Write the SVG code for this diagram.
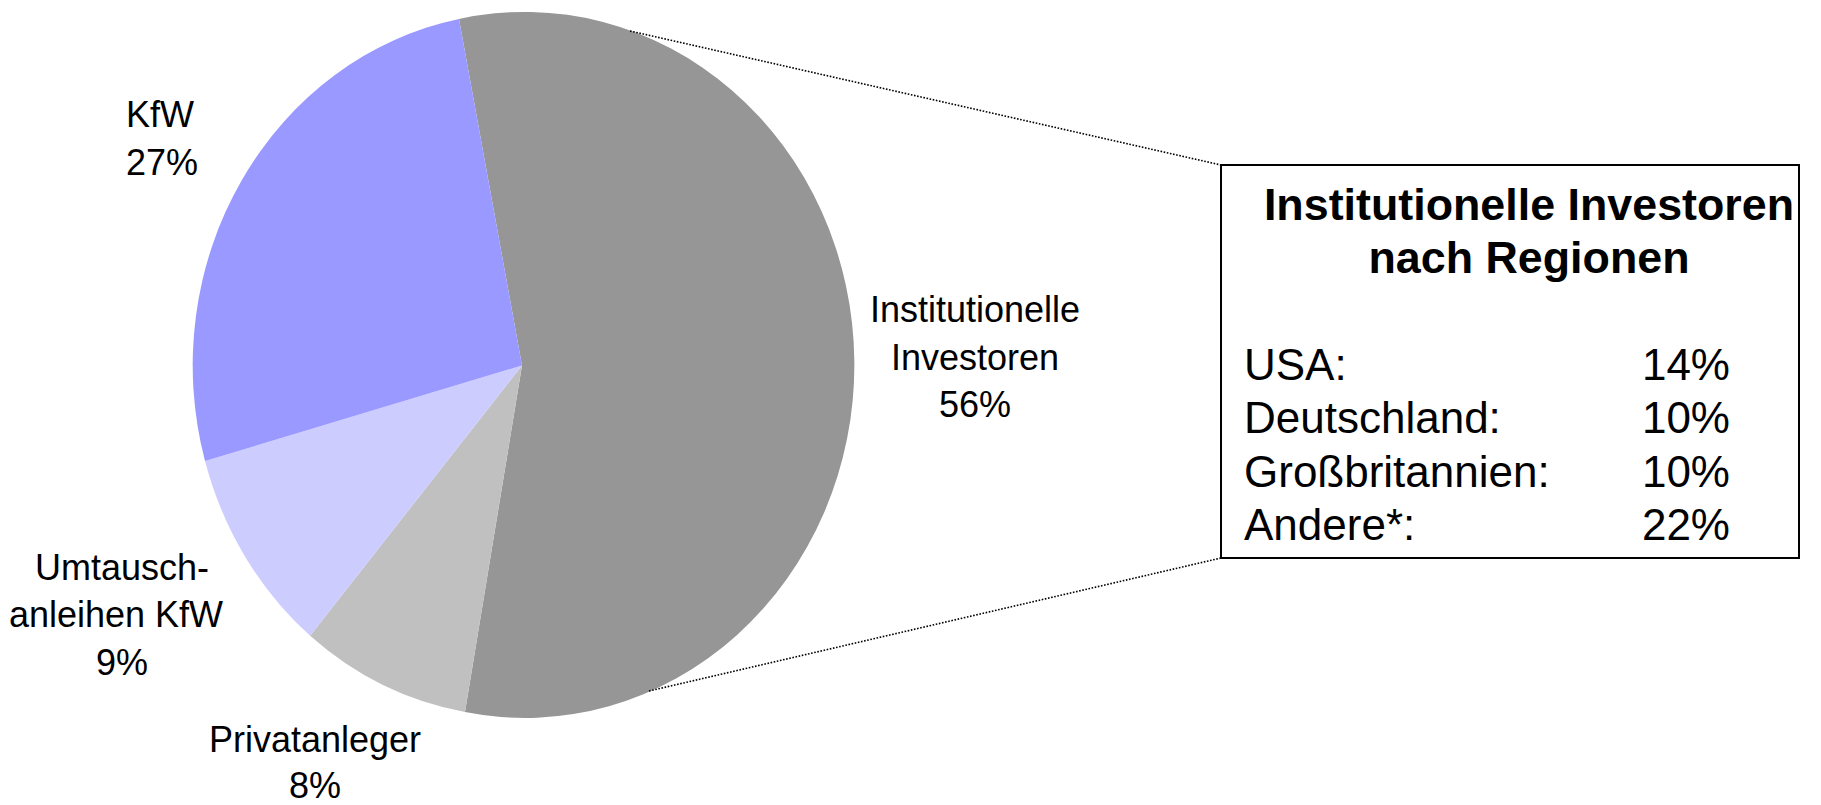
<svg xmlns="http://www.w3.org/2000/svg" width="1821" height="805" viewBox="0 0 1821 805">
<style>
text{font-family:"Liberation Sans",Arial,sans-serif;fill:#000}
.lbl{font-size:36px;text-anchor:middle}
.ttl{font-size:44.8px;font-weight:bold;text-anchor:middle}
.row{font-size:44px}
.pct{font-size:44px;text-anchor:end}
.dot{fill:none;stroke:#000;stroke-width:1.6;stroke-dasharray:1.6 1.6}
</style>
<rect width="1821" height="805" fill="#ffffff"/>
<g id="slice-institutionelle">
<path d="M522,365.5 L459,19 A329.5,353 0 1,1 465,712 Z" fill="#969696"/>
<text class="lbl" x="975" y="322">Institutionelle</text>
<text class="lbl" x="975" y="370">Investoren</text>
<text class="lbl" x="975" y="417">56%</text>
</g>
<g id="slice-privatanleger">
<path d="M522,365.5 L465,712 A329.5,353 0 0,1 310.1,635.8 Z" fill="#c0c0c0"/>
<text class="lbl" x="315" y="752">Privatanleger</text>
<text class="lbl" x="315" y="798">8%</text>
</g>
<g id="slice-umtausch">
<path d="M522,365.5 L310.1,635.8 A329.5,353 0 0,1 205,461 Z" fill="#ccccff"/>
<text class="lbl" x="122" y="580">Umtausch-</text>
<text class="lbl" x="116" y="627">anleihen KfW</text>
<text class="lbl" x="122" y="675">9%</text>
</g>
<g id="slice-kfw">
<path d="M522,365.5 L205,461 A329.5,353 0 0,1 459,19 Z" fill="#9999ff"/>
<text class="lbl" x="160" y="127">KfW</text>
<text class="lbl" x="162" y="175">27%</text>
</g>
<g id="connectors">
<line class="dot" x1="630" y1="31" x2="1221" y2="165"/>
<line class="dot" x1="649" y1="691" x2="1221" y2="558"/>
</g>
<g id="regionen-box">
<rect x="1221" y="165" width="578" height="393" fill="#ffffff" stroke="#000" stroke-width="2"/>
<text class="ttl" x="1529" y="220">Institutionelle Investoren</text>
<text class="ttl" x="1529" y="273">nach Regionen</text>
<text class="row" x="1244" y="380">USA:</text>
<text class="row" x="1244" y="433">Deutschland:</text>
<text class="row" x="1244" y="487">Großbritannien:</text>
<text class="row" x="1244" y="540">Andere*:</text>
<text class="pct" x="1730" y="380">14%</text>
<text class="pct" x="1730" y="433">10%</text>
<text class="pct" x="1730" y="487">10%</text>
<text class="pct" x="1730" y="540">22%</text>
</g>
</svg>
